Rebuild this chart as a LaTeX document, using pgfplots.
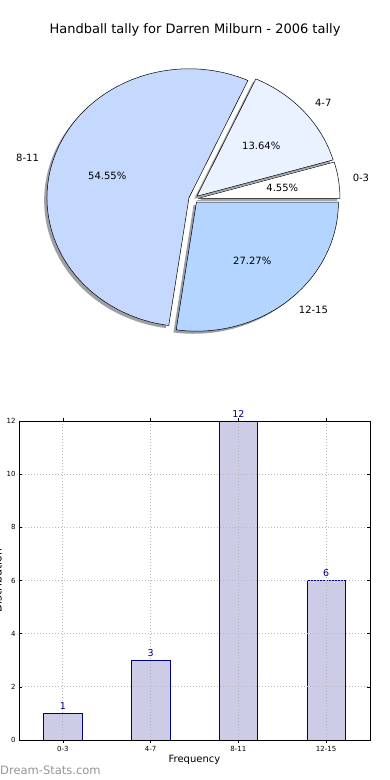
\documentclass[border=0pt]{standalone}
\usepackage{pgfplots}
\pgfplotsset{compat=1.18}
\usepackage{fontspec}
\setmainfont{DejaVu Sans}
\definecolor{c03}{HTML}{FFFFFF}
\definecolor{c47}{HTML}{EBF2FF}
\definecolor{c811}{HTML}{C5D9FF}
\definecolor{c1215}{HTML}{B3D5FF}
\definecolor{barfill}{HTML}{CCCCE6}
\definecolor{baredge}{HTML}{00008B}
\definecolor{wm}{HTML}{959595}
\definecolor{gridc}{HTML}{B8B8B8}

% pie geometry (pt)
\def\pcx{193.4}\def\pcy{581}\def\prx{142}\def\pry{129}\def\pe{0.0325}

\newcommand\pieshadow[3]{%
  \pgfmathsetmacro\pmid{(#1+#2)/2}%
  \pgfmathsetmacro\pox{\pcx+\pe*\prx*cos(\pmid)-2.8}%
  \pgfmathsetmacro\poy{\pcy+\pe*\pry*sin(\pmid)-2.6}%
  \edef\pdo{\noexpand\fill[fill=#3!30!black, opacity=0.5] (axis cs:\pox,\poy) -- ++(#1:\prx pt and \pry pt) arc[start angle=#1, end angle=#2, x radius=\prx pt, y radius=\pry pt] -- cycle;}%
  \pdo}
\newcommand\pieslice[6]{%
  \pgfmathsetmacro\pmid{(#1+#2)/2}%
  \pgfmathsetmacro\pox{\pcx+\pe*\prx*cos(\pmid)}%
  \pgfmathsetmacro\poy{\pcy+\pe*\pry*sin(\pmid)}%
  \pgfmathsetmacro\plx{\pox+1.1*\prx*cos(\pmid)}%
  \pgfmathsetmacro\ply{\poy+1.1*\pry*sin(\pmid)}%
  \pgfmathsetmacro\pqx{\pox+0.6*\prx*cos(\pmid)}%
  \pgfmathsetmacro\pqy{\poy+0.6*\pry*sin(\pmid)}%
  \edef\pdo{\noexpand\draw[fill=#3, draw=black, line width=0.5pt, line join=round] (axis cs:\pox,\poy) -- ++(#1:\prx pt and \pry pt) arc[start angle=#1, end angle=#2, x radius=\prx pt, y radius=\pry pt] -- cycle;
    \noexpand\node[anchor=#5, font=\noexpand\fontsize{10}{12}\noexpand\selectfont, inner sep=0pt] at (axis cs:\plx,\ply) {#4};
    \noexpand\node[anchor=center, font=\noexpand\fontsize{10}{12}\noexpand\selectfont, inner sep=0pt] at (axis cs:\pqx,\pqy) {#6};}%
  \pdo}

\begin{document}
\begin{tikzpicture}[x=1pt,y=1pt]
% pie values
\def\va{1}\def\vb{3}\def\vc{12}\def\vd{6}
\pgfmathsetmacro\tot{\va+\vb+\vc+\vd}
\pgfmathsetmacro\aA{0}
\pgfmathsetmacro\aB{\aA+360*\va/\tot}
\pgfmathsetmacro\aC{\aB+360*\vb/\tot}
\pgfmathsetmacro\aD{\aC+360*\vc/\tot}
\pgfmathsetmacro\aE{\aD+360*\vd/\tot}

\begin{axis}[at={(0pt,0pt)}, anchor=south west, scale only axis,
  width=390pt, height=780pt, xmin=0, xmax=390, ymin=0, ymax=780,
  hide axis, clip=false]
  \pieshadow{\aA}{\aB}{c03}
  \pieshadow{\aB}{\aC}{c47}
  \pieshadow{\aC}{\aD}{c811}
  \pieshadow{\aD}{\aE}{c1215}
  \pieslice{\aA}{\aB}{c03}{0-3}{west}{4.55\%}
  \pieslice{\aB}{\aC}{c47}{4-7}{west}{13.64\%}
  \pieslice{\aC}{\aD}{c811}{8-11}{east}{54.55\%}
  \pieslice{\aD}{\aE}{c1215}{12-15}{west}{27.27\%}
  \node[font=\fontsize{13}{15}\selectfont] at (axis cs:195,750) {Handball tally for Darren Milburn - 2006 tally};
  \node[anchor=west, inner sep=0pt, text=wm, font=\fontsize{11.5}{13}\selectfont] at (axis cs:0,10) {Dream-Stats.com};
\end{axis}

\begin{axis}[at={(19pt,40pt)}, anchor=south west, scale only axis,
  width=351pt, height=319pt,
  xmin=-0.5, xmax=3.5, ymin=0, ymax=12,
  xtick={0,1,2,3}, xticklabels={0-3,4-7,8-11,12-15},
  ytick={0,2,4,6,8,10,12},
  axis on top,
  grid=major, grid style={dash pattern=on 1pt off 2pt, gridc, line width=0.8pt},
  tick style={black, line width=0.5pt}, major tick length=3pt, tick align=inside,
  ticklabel style={font=\fontsize{7}{8}\selectfont},
  /pgf/number format/assume math mode=true,
  xlabel={Frequency}, xlabel style={font=\fontsize{10}{12}\selectfont, yshift=3pt},
  axis line style={black, line width=0.8pt},
  ybar, bar width=0.44,
  nodes near coords,
  nodes near coords style={font=\fontsize{9.5}{11}\selectfont, text=baredge},
  clip=false]
  \addplot[fill=barfill, draw=baredge, line width=0.6pt] coordinates {(0,1) (1,3) (2,12) (3,6)};
  \node[rotate=90, anchor=south, inner sep=0pt, font=\fontsize{11}{13}\selectfont] at (axis description cs:-0.0484,0.5) {Distribution};
\end{axis}
\pgfresetboundingbox
\useasboundingbox (0,0) rectangle (390,780);
\end{tikzpicture}
\end{document}
